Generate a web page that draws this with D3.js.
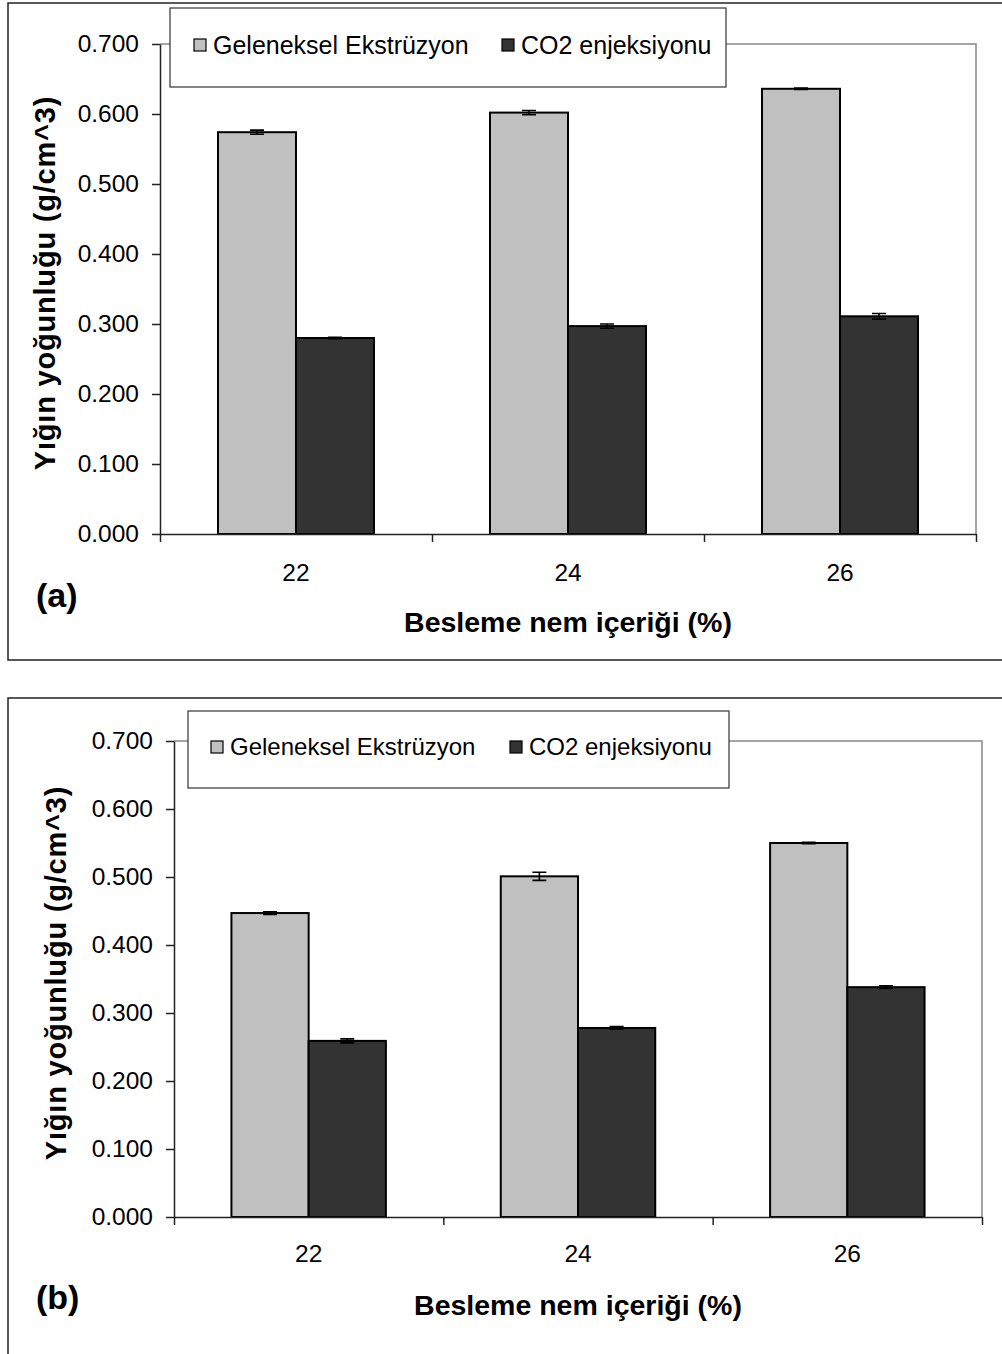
<!DOCTYPE html>
<html>
<head>
<meta charset="utf-8">
<script src="https://cdn.jsdelivr.net/npm/d3@7"></script>
<style>
  body { margin: 0; background: #fff; }
  svg { display: block; font-family: "Liberation Sans", Arial, sans-serif; }
</style>
</head>
<body>
<script>
// values
const categories = ["22", "24", "26"];
const seriesNames = ["Geleneksel Ekstrüzyon", "CO2 enjeksiyonu"];
const yTicks = [0, 0.1, 0.2, 0.3, 0.4, 0.5, 0.6, 0.7];

const convA = [0.574, 0.602, 0.636];
const convErrA = [0.003, 0.003, 0.001];
const co2A = [0.280, 0.297, 0.311];
const co2ErrA = [0.001, 0.003, 0.004];

const convB = [0.447, 0.501, 0.550];
const convErrB = [0.002, 0.006, 0.001];
const co2B = [0.259, 0.278, 0.338];
const co2ErrB = [0.003, 0.002, 0.002];

const fills = ["#c0c0c0", "#333333"];

const svg = d3.select("body").append("svg")
    .attr("width", 1002)
    .attr("height", 1354);

function drawPanel(cfg) {
    const g = svg.append("g");
    // outer chart frame (runs off the right edge)
    g.append("rect")
        .attr("x", cfg.frame.x).attr("y", cfg.frame.y)
        .attr("width", 1100).attr("height", cfg.frame.h)
        .attr("fill", "none").attr("stroke", "#222").attr("stroke-width", 1.5);

    const y = d3.scaleLinear().domain([0, 0.7]).range([cfg.bottom, cfg.top]);
    const x = d3.scaleBand().domain(categories)
        .range([cfg.left, cfg.right]).paddingInner(0.4265).paddingOuter(0.2132);
    const xs = d3.scaleBand().domain(seriesNames).range([0, x.bandwidth()]);
    const xEdge = d3.scaleLinear().domain([0, categories.length]).range([cfg.left, cfg.right]);

    // plot area top / right border
    g.append("path")
        .attr("d", `M${cfg.left},${cfg.top}H${cfg.right}V${cfg.bottom}`)
        .attr("fill", "none").attr("stroke", "#888").attr("stroke-width", 1.5);

    const rows = categories.map((c, i) => ({
        cat: c,
        vals: [
            { s: seriesNames[0], v: cfg.conv[i], e: cfg.convErr[i], k: 0 },
            { s: seriesNames[1], v: cfg.co2[i], e: cfg.co2Err[i], k: 1 }
        ]
    }));

    const grp = g.selectAll(".cat").data(rows).enter().append("g")
        .attr("transform", d => `translate(${x(d.cat)},0)`);
    grp.selectAll("rect").data(d => d.vals).enter().append("rect")
        .attr("x", d => xs(d.s))
        .attr("y", d => y(d.v))
        .attr("width", xs.bandwidth())
        .attr("height", d => y(0) - y(d.v))
        .attr("fill", d => fills[d.k])
        .attr("stroke", "#000").attr("stroke-width", 2);
    // error bars
    grp.selectAll(".err").data(d => d.vals).enter().append("path")
        .attr("d", d => {
            const cx = xs(d.s) + xs.bandwidth() / 2;
            const y1 = y(d.v + d.e), y2 = y(d.v - d.e);
            return `M${cx - 7},${y1}H${cx + 7}M${cx},${y1}V${y2}M${cx - 7},${y2}H${cx + 7}`;
        })
        .attr("fill", "none").attr("stroke", "#000").attr("stroke-width", 1.6);

    // axes
    const yAxis = g.append("g")
        .attr("transform", `translate(${cfg.left},0)`)
        .call(d3.axisLeft(y).tickValues(yTicks).tickFormat(d3.format(".3f"))
            .tickSizeInner(8).tickSizeOuter(0).tickPadding(13));
    const xTicks = g.append("g")
        .attr("transform", `translate(0,${cfg.bottom})`)
        .call(d3.axisBottom(xEdge).tickValues([0, 1, 2, 3]).tickFormat("")
            .tickSizeInner(8).tickSizeOuter(0));
    const xLabels = g.append("g")
        .attr("transform", `translate(0,${cfg.bottom})`)
        .call(d3.axisBottom(x).tickSize(0).tickPadding(cfg.xPad));
    xLabels.select(".domain").remove();
    [yAxis, xTicks].forEach(a => a.selectAll("path,line").attr("stroke", "#222").attr("stroke-width", 1.5));
    [yAxis, xLabels].forEach(a => a.selectAll("text")
        .attr("font-family", "Liberation Sans, Arial, sans-serif")
        .attr("font-size", 24.5).attr("fill", "#000"));

    // axis titles
    g.append("text")
        .attr("transform", `translate(${cfg.yTitleX},${(cfg.top + cfg.bottom) / 2 - 6}) rotate(-90)`)
        .attr("text-anchor", "middle").attr("dy", "0.35em")
        .attr("font-size", 29).attr("font-weight", "bold")
        .attr("letter-spacing", 0.8)
        .text("Yığın yoğunluğu (g/cm^3)");
    g.append("text")
        .attr("x", (cfg.left + cfg.right) / 2).attr("y", cfg.bottom + 98)
        .attr("text-anchor", "middle")
        .attr("font-size", 28.5).attr("font-weight", "bold")
        .text("Besleme nem içeriği (%)");
    g.append("text")
        .attr("x", 36).attr("y", cfg.tagY)
        .attr("font-size", 34).attr("font-weight", "bold")
        .text(cfg.tag);

    // legend
    const lg = g.append("g").attr("transform", `translate(${cfg.legend.x},${cfg.legend.y})`);
    lg.append("rect")
        .attr("width", cfg.legend.w).attr("height", cfg.legend.h)
        .attr("fill", "#fff").attr("stroke", "#333").attr("stroke-width", 1.2);
    const items = cfg.legend.itemX.map((ix, k) => ({ x: ix, k: k }));
    const li = lg.selectAll(".li").data(items).enter().append("g")
        .attr("transform", d => `translate(${d.x},${cfg.legend.textY})`);
    li.append("rect")
        .attr("x", 0).attr("y", -6).attr("width", 12).attr("height", 12)
        .attr("fill", d => fills[d.k]).attr("stroke", "#000").attr("stroke-width", 1.2);
    li.append("text")
        .attr("x", 19).attr("dy", "0.35em")
        .attr("font-size", cfg.legend.fontSize)
        .text(d => seriesNames[d.k]);
}

drawPanel({
    frame: { x: 8, y: 3, h: 657 },
    left: 160, right: 976, top: 44, bottom: 534,
    conv: convA, convErr: convErrA, co2: co2A, co2Err: co2ErrA,
    xPad: 30, yTitleX: 45, tag: "(a)", tagY: 607,
    legend: { x: 170, y: 8, w: 556, h: 79, textY: 37, itemX: [24, 332], fontSize: 25 }
});

drawPanel({
    frame: { x: 8, y: 698, h: 700 },
    left: 174, right: 982, top: 741, bottom: 1217,
    conv: convB, convErr: convErrB, co2: co2B, co2Err: co2ErrB,
    xPad: 28, yTitleX: 56, tag: "(b)", tagY: 1309,
    legend: { x: 188, y: 711, w: 541, h: 77, textY: 36, itemX: [23, 322], fontSize: 24 }
});
</script>
</body>
</html>
